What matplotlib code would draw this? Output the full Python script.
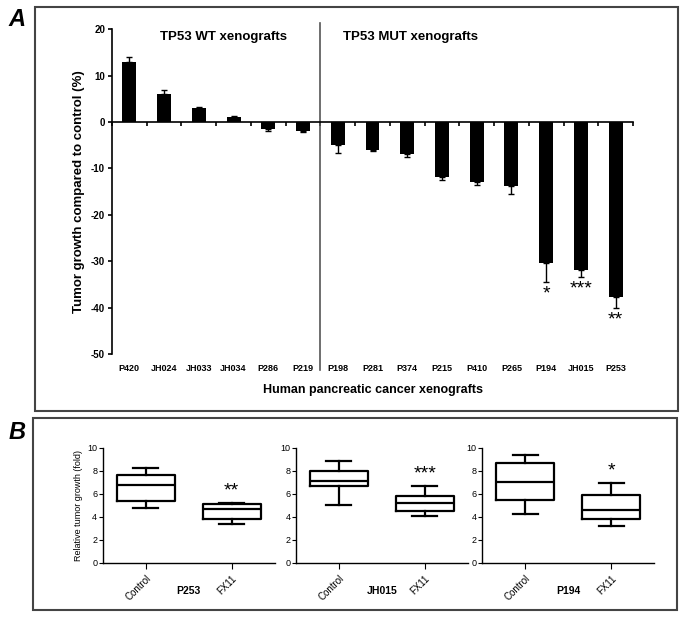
import numpy as np
import matplotlib
matplotlib.use('Agg')
import matplotlib.pyplot as plt
from matplotlib.patches import Rectangle

plt.rcParams['font.family'] = ['Liberation Sans', 'DejaVu Sans']
plt.rcParams['axes.unicode_minus'] = False

# panel A data
xeno = ['P420', 'JH024', 'JH033', 'JH034', 'P286', 'P219',
        'P198', 'P281', 'P374', 'P215', 'P410', 'P265', 'P194', 'JH015', 'P253']
growth = [13.0, 6.0, 3.1, 1.1, -1.6, -2.0,
          -5.0, -6.0, -6.9, -11.9, -12.9, -13.9, -30.3, -31.8, -37.8]
growth_err = [1.0, 0.8, 0.1, 0.1, 0.3, 0.2,
              1.6, 0.2, 0.7, 0.6, 0.7, 1.6, 4.1, 1.5, 2.3]
sig_a = {'P194': '*', 'JH015': '***', 'P253': '**'}
n_wt = 6

# panel B data: whislo, q1, med, q3, whishi
groups = ['P253', 'JH015', 'P194']
treat = ['Control', 'FX11']
box_control = [[4.8, 5.35, 6.8, 7.65, 8.25],
               [5.0, 6.7, 7.15, 8.0, 8.85],
               [4.25, 5.5, 7.0, 8.68, 9.35]]
box_fx11 = [[3.35, 3.85, 4.67, 5.15, 5.25],
            [4.1, 4.55, 5.2, 5.8, 6.72],
            [3.2, 3.8, 4.65, 5.93, 6.93]]
sig_b = ['**', '***', '*']

fig = plt.figure(figsize=(6.85, 6.19), dpi=100)

# frames
fig.add_artist(Rectangle((0.051, 0.336), 0.939, 0.653, transform=fig.transFigure,
                         fill=False, edgecolor='#444444', lw=1.5))
fig.add_artist(Rectangle((0.048, 0.0145), 0.940, 0.310, transform=fig.transFigure,
                         fill=False, edgecolor='#444444', lw=1.5))
fig.text(0.012, 0.968, 'A', fontsize=17, fontweight='bold', fontstyle='italic', va='center')
fig.text(0.012, 0.302, 'B', fontsize=17, fontweight='bold', fontstyle='italic', va='center')

# ---- panel A ----
ax = fig.add_axes([0.1635, 0.428, 0.7606, 0.525])
x = np.arange(len(xeno))
vals = np.array(growth)
err = np.array(growth_err)
yerr = [np.where(vals < 0, err, 0), np.where(vals >= 0, err, 0)]
ax.bar(x, vals, width=0.4, color='black')
ax.errorbar(x, vals, yerr=yerr, fmt='none', ecolor='black', elinewidth=1, capsize=2, capthick=1)
ax.set_xlim(-0.5, len(xeno) - 0.5)
ax.set_ylim(-50, 20)
ax.set_yticks(np.arange(-50, 21, 10))
ax.spines['top'].set_visible(False)
ax.spines['right'].set_visible(False)
ax.spines['bottom'].set_position(('data', 0))
for s in ['left', 'bottom']:
    ax.spines[s].set_linewidth(1.2)
ax.set_xticks(np.arange(len(xeno) + 1) - 0.5)
ax.set_xticklabels([])
ax.tick_params(axis='x', length=3, width=1.2, direction='out')
ax.tick_params(axis='y', length=3, width=1.2, labelsize=7, pad=2)
for t in ax.get_yticklabels():
    t.set_fontweight('bold')
sec = ax.secondary_xaxis('bottom')
sec.set_xticks(x)
sec.set_xticklabels(xeno, fontsize=6.5, fontweight='bold')
sec.tick_params(length=0, pad=7)
sec.spines['bottom'].set_visible(False)
sec.set_xlabel('Human pancreatic cancer xenografts', fontsize=9, fontweight='bold', labelpad=8)
ax.set_ylabel('Tumor growth compared to control (%)', fontsize=9.5, fontweight='bold', labelpad=4)

ax.plot([n_wt - 0.5, n_wt - 0.5], [1.018, -0.05], color='#555555', lw=1.2,
        transform=ax.get_xaxis_transform(), clip_on=False)
ax.text(2.7, 18.3, 'TP53 WT xenografts', fontsize=9.5, fontweight='bold', ha='center', va='center')
ax.text(8.1, 18.3, 'TP53 MUT xenografts', fontsize=9.5, fontweight='bold', ha='center', va='center')
for i, name in enumerate(xeno):
    if name in sig_a:
        ax.text(i, vals[i] - err[i] - 0.8, sig_a[name], fontsize=14, ha='center', va='top')

# ---- panel B ----
lefts = [0.150, 0.432, 0.704]
for k in range(3):
    bx = fig.add_axes([lefts[k], 0.0905, 0.251, 0.1858])
    stats = []
    for lab, b in zip(treat, [box_control[k], box_fx11[k]]):
        stats.append({'label': lab, 'whislo': b[0], 'q1': b[1], 'med': b[2],
                      'q3': b[3], 'whishi': b[4], 'fliers': []})
    lp = dict(color='black', linewidth=1.6)
    bx.bxp(stats, positions=[0, 1], widths=0.67, capwidths=0.29, showfliers=False,
           boxprops=lp, medianprops=lp, whiskerprops=lp, capprops=lp)
    bx.set_xlim(-0.5, 1.5)
    bx.set_ylim(0, 10)
    bx.set_yticks(np.arange(0, 11, 2))
    bx.spines['top'].set_visible(False)
    bx.spines['right'].set_visible(False)
    for s in ['left', 'bottom']:
        bx.spines[s].set_linewidth(1.0)
    bx.tick_params(axis='y', labelsize=6.5, length=3, pad=1)
    bx.tick_params(axis='x', labelsize=7, length=4)
    bx.set_xticks([0, 1])
    bx.set_xticklabels(treat, rotation=45, ha='right', rotation_mode='anchor')
    bx.text(0.5, -0.24, groups[k], transform=bx.get_xaxis_transform(),
            fontsize=7.5, fontweight='bold', ha='center', va='center')
    fx = box_fx11[k]
    bx.text(1, fx[4] + 0.3, sig_b[k], fontsize=14, ha='center', va='bottom')
    if k == 0:
        bx.set_ylabel('Relative tumor growth (fold)', fontsize=6.5, labelpad=3)

fig.savefig('out.png', dpi=100)
